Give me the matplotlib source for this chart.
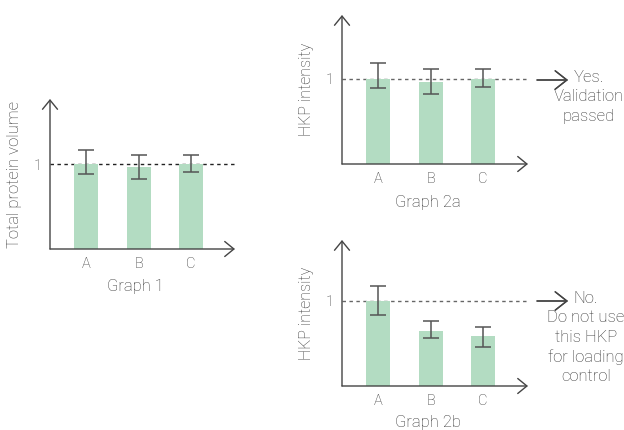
import matplotlib.pyplot as plt
import numpy as np

# data
groups = ['A', 'B', 'C']
g1_vals = [1.0, 0.96, 1.0]
g1_err_lo = [0.12, 0.14, 0.09]
g1_err_hi = [0.17, 0.15, 0.11]
g2a_vals = [1.0, 0.97, 1.0]
g2a_err_lo = [0.11, 0.15, 0.09]
g2a_err_hi = [0.19, 0.145, 0.115]
g2b_vals = [1.0, 0.65, 0.59]
g2b_err_lo = [0.17, 0.09, 0.13]
g2b_err_hi = [0.18, 0.11, 0.11]

W, H = 624, 430
bar_color = '#b3dcc2'
ink = '#333333'
plt.rcParams['font.family'] = ['Roboto', 'DejaVu Sans']
plt.rcParams['font.weight'] = 'light'
plt.rcParams['axes.labelweight'] = 'light'
plt.rcParams['font.size'] = 10

fig = plt.figure(figsize=(W / 100, H / 100), dpi=100)

arrow = dict(arrowstyle='->,head_length=0.55,head_width=0.45', color='#444444',
             lw=1.0, shrinkA=0, shrinkB=0, mutation_scale=12)


def px_box(left, top, right, bottom):
    return [left / W, 1 - bottom / H, (right - left) / W, (bottom - top) / H]


def panel(box, vals, lo, hi, ylabel, ylabel_size, title, title_y, dash_color):
    ax = fig.add_axes(px_box(*box))
    x = np.arange(len(groups))
    spacing = 52.5
    left, top, right, bottom = box
    ax.set_xlim(-36 / spacing, (right - left - 36) / spacing)
    ax.set_ylim(0, (bottom - top) / 85)
    ax.bar(x, vals, width=24 / spacing, color=bar_color, zorder=2)
    ax.errorbar(x, vals, yerr=[lo, hi], fmt='none', ecolor='#555555',
                elinewidth=1.1, capsize=6, capthick=1.1, zorder=3)
    ax.axhline(1, color=dash_color, lw=1, ls=(0, (2.5, 2.5)), zorder=1)
    for s in ax.spines.values():
        s.set_visible(False)
    ax.set_xticks(x)
    ax.set_xticklabels(groups)
    ax.set_yticks([1])
    ax.tick_params(length=0, colors=ink, labelsize=10.5, pad=6)
    ax.set_ylabel(ylabel, color=ink, fontsize=ylabel_size, labelpad=8)
    ax.patch.set_alpha(0)
    ax.annotate('', xy=(0, 1), xytext=(0, 0), xycoords='axes fraction',
                arrowprops=arrow, annotation_clip=False)
    ax.annotate('', xy=(1, 0), xytext=(0, 0), xycoords='axes fraction',
                arrowprops=arrow, annotation_clip=False)
    fig.text((left + right) / 2 / W - 0.012, 1 - title_y / H, title,
             ha='center', va='center', color=ink, fontsize=12)
    return ax


panel((50, 99, 235, 249), g1_vals, g1_err_lo, g1_err_hi,
      'Total protein volume', 12, 'Graph 1', 287, '#222222')
panel((342, 15, 528, 164), g2a_vals, g2a_err_lo, g2a_err_hi,
      'HKP intensity', 11.5, 'Graph 2a', 202, '#666666')
panel((342, 240, 528, 386), g2b_vals, g2b_err_lo, g2b_err_hi,
      'HKP intensity', 11.5, 'Graph 2b', 423, '#666666')

# side notes
side_arrow = dict(arrow, arrowstyle='->,head_length=0.7,head_width=0.55')
for y, note, cx in [(80, 'Yes.\nValidation\npassed', 589),
                    (301, 'No.\nDo not use\nthis HKP\nfor loading\ncontrol', 586)]:
    fig.add_artist(plt.annotate('', xy=(568 / W, 1 - y / H), xytext=(537 / W, 1 - y / H),
                                xycoords='figure fraction', arrowprops=side_arrow))
    fig.text(cx / W, 1 - (y - 10) / H, note, ha='center', va='top',
             multialignment='center', color=ink, fontsize=12, linespacing=1.36)

fig.savefig('out.png', dpi=100, facecolor='white')
